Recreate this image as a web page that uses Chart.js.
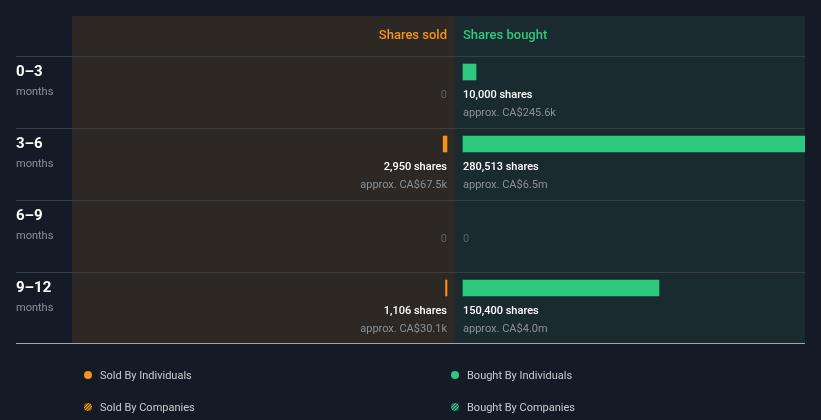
<!DOCTYPE html>
<html><head><meta charset="utf-8">
<script src="https://cdn.jsdelivr.net/npm/chart.js@4.4.1/dist/chart.umd.min.js"></script>
<style>html,body{margin:0;padding:0;background:#151b26;}canvas{display:block}</style>
</head><body>
<canvas id="c" width="821" height="420"></canvas>
<script>
// ---- data ----
const periods = ['0–3', '3–6', '6–9', '9–12'];
const periodUnit = 'months';
const sharesSold = [0, 2950, 0, 1106];
const sharesBought = [10000, 280513, 0, 150400];
const valueSold = [null, 'CA$67.5k', null, 'CA$30.1k'];
const valueBought = ['CA$245.6k', 'CA$6.5m', null, 'CA$4.0m'];
const headers = ['Shares sold', 'Shares bought'];
const legendItems = ['Sold By Individuals', 'Bought By Individuals', 'Sold By Companies', 'Bought By Companies'];

// ---- style ----
const BG = '#151b26', PANEL_SOLD = '#2d2823', PANEL_BOUGHT = '#192b2e';
const ORANGE = '#f7931a', GREEN = '#2ec97f';
const LINE = '#3a3e43', BOTTOM_LINE = '#a3a7ab';
const WHITE = '#ffffff', GREY = '#8c9196', DIM = '#5b6066', LEGEND_TXT = '#c8ccd0';
const FONT = 'Roboto, "Noto Sans", sans-serif';

// geometry of the value axes (pixels) and shares per pixel
const AREA_L = 72, AREA_R = 805, SOLD_ZERO = 447, BOUGHT_ZERO = 463;
const U = 767.3;

const fmt = n => n.toLocaleString('en-US');
const barColor = col => ctx => (ctx.raw ? col : 'rgba(0,0,0,0)');

const drawPlugin = {
  id: 'insider',
  beforeDraw(chart) {
    const c = chart.ctx, a = chart.chartArea;
    const xs = chart.scales.xs, xb = chart.scales.xb, y = chart.scales.y;
    const sZero = xs.getPixelForValue(0), bZero = xb.getPixelForValue(0);
    const mid = (sZero + bZero) / 2;
    const rowTop = i => y.getPixelForValue(i) - 16;
    const bottom = y.getPixelForValue(periods.length - 1) + 55;
    c.save();
    c.fillStyle = BG; c.fillRect(0, 0, chart.width, chart.height);
    c.fillStyle = PANEL_SOLD; c.fillRect(a.left, 16, mid - a.left, bottom - 16);
    c.fillStyle = PANEL_BOUGHT; c.fillRect(mid, 16, a.right - mid, bottom - 16);
    c.fillStyle = LINE;
    periods.forEach((p, i) => c.fillRect(16, rowTop(i), a.right - 16, 1));
    c.font = '500 13px ' + FONT; c.textBaseline = 'alphabetic';
    c.fillStyle = ORANGE; c.textAlign = 'right'; c.fillText(headers[0], sZero, 39);
    c.fillStyle = GREEN; c.textAlign = 'left'; c.fillText(headers[1], bZero, 39);
    c.restore();
  },
  afterDatasetsDraw(chart) {
    const c = chart.ctx, a = chart.chartArea;
    const xs = chart.scales.xs, xb = chart.scales.xb, y = chart.scales.y;
    const sZero = xs.getPixelForValue(0), bZero = xb.getPixelForValue(0);
    c.save();
    c.textBaseline = 'alphabetic';
    periods.forEach((p, i) => {
      const yc = y.getPixelForValue(i);
      c.textAlign = 'left';
      c.fillStyle = WHITE; c.font = 'bold 15px ' + FONT; c.fillText(p, 16, yc + 3.5);
      c.fillStyle = GREY; c.font = '11px ' + FONT; c.fillText(periodUnit, 16, yc + 23);
      const sides = [[sharesSold[i], valueSold[i], sZero, 'right'], [sharesBought[i], valueBought[i], bZero, 'left']];
      sides.forEach(([n, v, x, al]) => {
        c.textAlign = al;
        if (!n) {
          c.fillStyle = DIM; c.font = '11px ' + FONT; c.fillText('0', x, yc + 26);
        } else {
          c.fillStyle = WHITE; c.font = '500 11px ' + FONT; c.fillText(fmt(n) + ' shares', x, yc + 26);
          if (v) { c.fillStyle = GREY; c.font = '11px ' + FONT; c.fillText('approx. ' + v, x, yc + 44); }
        }
      });
    });
    const bottom = y.getPixelForValue(periods.length - 1) + 55;
    c.fillStyle = BOTTOM_LINE; c.fillRect(16, bottom, a.right - 16, 1);

    // legend
    const cols = [84, 451], rows = [375, 407];
    legendItems.forEach((lab, k) => {
      const col = cols[k % 2], row = rows[Math.floor(k / 2)];
      const color = k % 2 === 0 ? ORANGE : GREEN;
      const cx = col + 4, cy = row;
      if (k < 2) {
        c.fillStyle = color;
        c.beginPath(); c.arc(cx, cy, 4, 0, Math.PI * 2); c.fill();
      } else {
        c.save();
        c.beginPath(); c.arc(cx, cy, 4, 0, Math.PI * 2); c.clip();
        c.strokeStyle = color; c.lineWidth = 1.4;
        for (let d = -9; d <= 9; d += 3) {
          c.beginPath(); c.moveTo(cx - 5 + d, cy + 5); c.lineTo(cx + 5 + d, cy - 5); c.stroke();
        }
        c.restore();
      }
      c.fillStyle = LEGEND_TXT; c.font = '11px ' + FONT; c.textAlign = 'left';
      c.fillText(lab, col + 16, row + 4);
    });
    c.restore();
  }
};

new Chart(document.getElementById('c'), {
  type: 'bar',
  data: {
    labels: periods,
    datasets: [
      { label: 'Sold By Individuals', data: sharesSold, xAxisID: 'xs', backgroundColor: barColor(ORANGE),
        barThickness: 16, grouped: false, clip: 0 },
      { label: 'Bought By Individuals', data: sharesBought, xAxisID: 'xb', backgroundColor: barColor(GREEN),
        barThickness: 16, grouped: false, clip: 0 }
    ]
  },
  options: {
    indexAxis: 'y',
    responsive: false,
    animation: false,
    layout: { padding: { left: AREA_L, right: 821 - AREA_R, top: 36, bottom: 96 } },
    scales: {
      y: { display: false, offset: true },
      xs: { type: 'linear', axis: 'x', display: false, reverse: true,
            min: -(AREA_R - SOLD_ZERO) * U, max: (SOLD_ZERO - AREA_L) * U },
      xb: { type: 'linear', axis: 'x', display: false,
            min: -(BOUGHT_ZERO - AREA_L) * U, max: (AREA_R - BOUGHT_ZERO) * U }
    },
    plugins: { legend: { display: false }, tooltip: { enabled: false } }
  },
  plugins: [drawPlugin]
});
</script>
</body></html>
